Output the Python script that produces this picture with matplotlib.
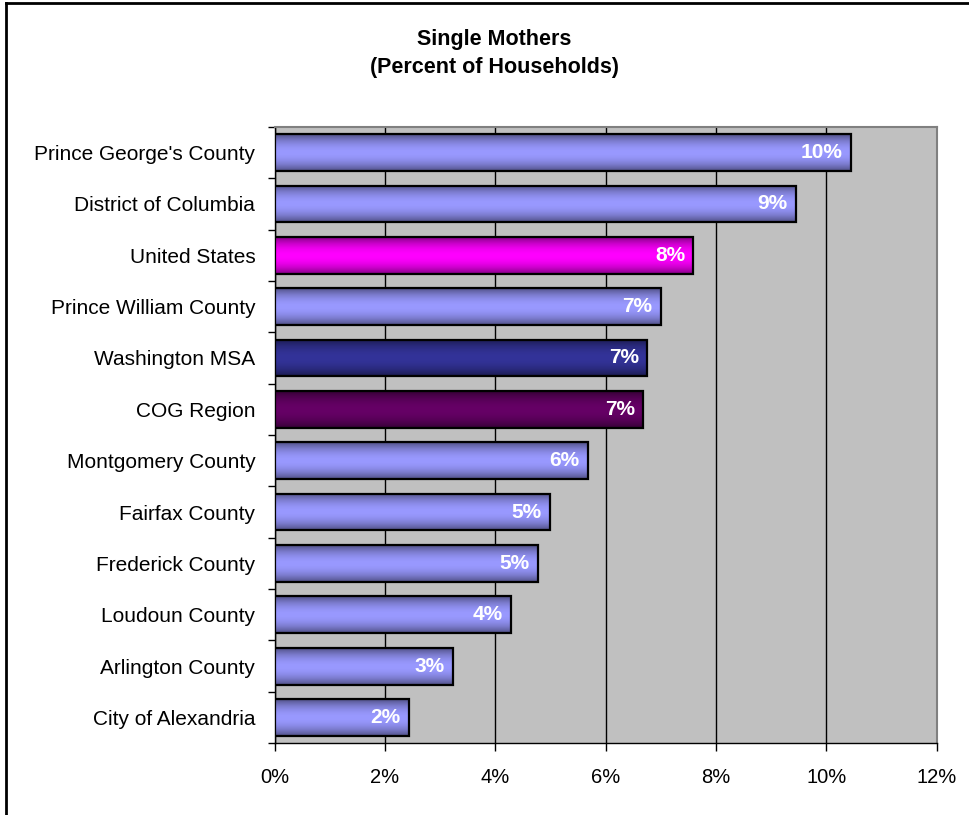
import numpy as np
import matplotlib
matplotlib.use("Agg")
import matplotlib.pyplot as plt
from matplotlib.patches import Rectangle
from matplotlib.colors import to_rgb
from matplotlib.lines import Line2D

plt.rcParams["font.family"] = ["Liberation Sans", "DejaVu Sans"]

categories = [
    "Prince George's County",
    "District of Columbia",
    "United States",
    "Prince William County",
    "Washington MSA",
    "COG Region",
    "Montgomery County",
    "Fairfax County",
    "Frederick County",
    "Loudoun County",
    "Arlington County",
    "City of Alexandria",
]
values = [10.45, 9.45, 7.59, 7.0, 6.75, 6.68, 5.68, 4.99, 4.77, 4.28, 3.23, 2.43]
labels = ["10%", "9%", "8%", "7%", "7%", "7%", "6%", "5%", "5%", "4%", "3%", "2%"]
bar_colors = ["#9999FF", "#9999FF", "#FF00FF", "#9999FF", "#333399", "#660066",
              "#9999FF", "#9999FF", "#9999FF", "#9999FF", "#9999FF", "#9999FF"]
xticks = [0, 2, 4, 6, 8, 10, 12]


def gradient(color, n=64):
    # darker at top and bottom, light in the middle
    base = np.array(to_rgb(color))
    t = np.linspace(0, 1, n)
    f = 0.5 + 0.5 * np.sin(np.pi * t) ** 0.8
    rows = base[None, :] * f[:, None]
    return rows[:, None, :]


fig = plt.figure(figsize=(9.69, 8.15), dpi=100)
ax = fig.add_axes([0.2835, 0.0883, 0.6832, 0.7559])
ax.set_facecolor("#C0C0C0")

h = 0.72
for i, (v, c) in enumerate(zip(values, bar_colors)):
    ax.imshow(gradient(c), extent=[0, v, i + h / 2, i - h / 2],
              aspect="auto", zorder=3, interpolation="bilinear")
    ax.add_patch(Rectangle((0, i - h / 2), v, h, fill=False,
                           edgecolor="black", lw=1.6, zorder=4))
    ax.annotate(labels[i], (v, i), xytext=(-6, 0), textcoords="offset points",
                ha="right", va="center", color="white", fontweight="bold",
                fontsize=15, zorder=5)

ax.set_xlim(0, 12)
ax.set_ylim(len(categories) - 0.5, -0.5)
ax.set_xticks(xticks)
ax.set_xticklabels([f"{t}%" for t in xticks], fontsize=14.5)
ax.set_yticks(range(len(categories)))
ax.set_yticklabels(categories, fontsize=15)
ax.tick_params(axis="y", length=0, pad=14)
ax.set_yticks(np.arange(-0.5, len(categories), 1), minor=True)
ax.tick_params(axis="y", which="minor", length=5, direction="out", width=1)
ax.tick_params(axis="x", length=6, direction="out", width=1, pad=12)
ax.xaxis.grid(True, color="black", lw=1)
ax.set_axisbelow(True)
for s in ["top", "right"]:
    ax.spines[s].set_color("#808080")
    ax.spines[s].set_linewidth(1.5)
for s in ["left", "bottom"]:
    ax.spines[s].set_color("black")
    ax.spines[s].set_linewidth(1)

fig.text(0.51, 1 - 40 / 815, "Single Mothers", ha="center", va="center",
         fontsize=15.5, fontweight="bold")
fig.text(0.51, 1 - 68 / 815, "(Percent of Households)", ha="center", va="center",
         fontsize=15.5, fontweight="bold")

# outer frame (left and top edges)
fig.add_artist(Line2D([6 / 969, 6 / 969], [0, 1 - 3 / 815], color="black", lw=2,
                      transform=fig.transFigure))
fig.add_artist(Line2D([6 / 969, 1], [1 - 3 / 815, 1 - 3 / 815], color="black", lw=2,
                      transform=fig.transFigure))

fig.savefig("out.png", dpi=100)
